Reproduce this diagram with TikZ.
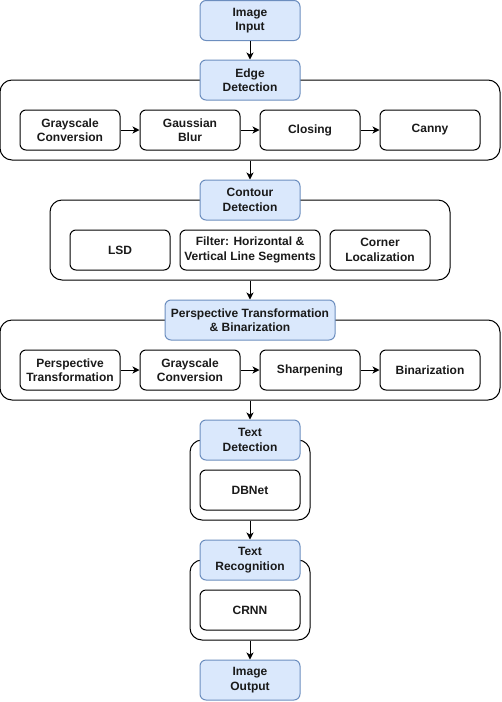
\documentclass[tikz,border=0pt]{standalone}
\usepackage{fontspec}
\setmainfont{Liberation Sans}
\usetikzlibrary{arrows.meta}
\definecolor{hfill}{HTML}{DAE8FC}
\definecolor{hdraw}{HTML}{6C8EBF}
\definecolor{txt}{HTML}{1A1A1A}
\begin{document}
\begin{tikzpicture}[x=1pt,y=-1pt,
  every node/.style={font=\fontsize{12}{14.5}\selectfont\bfseries, text=txt, align=center, inner sep=0pt},
  head/.style={draw=hdraw, fill=hfill, line width=1pt, rounded corners=6pt, minimum width=100pt, minimum height=40pt},
  stepbox/.style={draw=black, fill=white, line width=1pt, rounded corners=6pt, minimum width=100pt, minimum height=40pt},
  cont/.style={draw=black, fill=white, line width=1pt, rounded corners=12pt},
  arr/.style={draw=black, line width=1pt, -{Stealth[length=7pt,width=7pt,inset=2pt]}}
]
\useasboundingbox (0,0) rectangle (502,702);

% containers
\node[cont, minimum width=500pt, minimum height=80pt] (c1) at (250,120) {};
\node[cont, minimum width=400pt, minimum height=80pt] (c2) at (250,240) {};
\node[cont, minimum width=500pt, minimum height=80pt] (c3) at (250,360) {};
\node[cont, minimum width=120pt, minimum height=80pt] (c4) at (250,480) {};
\node[cont, minimum width=120pt, minimum height=80pt] (c5) at (250,600) {};

% headers
\node[head] (in) at (250,20.5) {Image\\Input};
\node[head] (edge) at (250,80) {Edge\\Detection};
\node[head] (contour) at (250,200) {Contour\\Detection};
\node[head, minimum width=170pt] (persp) at (250,320) {Perspective Transformation\\\& Binarization};
\node[head] (tdet) at (250,440) {Text\\Detection};
\node[head] (trec) at (250,560) {Text\\Recognition};
\node[head] (out) at (250,680) {Image\\Output};

% edge detection steps
\node[stepbox] (g1) at (70,130) {Grayscale\\Conversion};
\node[stepbox] (gb) at (190,130) {Gaussian\\Blur};
\node[stepbox] (cl) at (310,130) {Closing};
\node[stepbox] (ca) at (430,130) {Canny};

% contour steps
\node[stepbox] (lsd) at (120,250) {LSD};
\node[stepbox, minimum width=140pt] (flt) at (250,250) {Filter: Horizontal \&\\Vertical Line Segments};
\node[stepbox] (cor) at (380,250) {Corner\\Localization};

% perspective steps
\node[stepbox] (pt) at (70,370) {Perspective\\Transformation};
\node[stepbox] (g2) at (190,370) {Grayscale\\Conversion};
\node[stepbox] (sh) at (310,370) {Sharpening};
\node[stepbox] (bi) at (430,370) {Binarization};

\node[stepbox] (db) at (250,490) {DBNet};
\node[stepbox] (cr) at (250,610) {CRNN};

% arrows
\draw[arr] (in) -- (edge);
\draw[arr] (c1.south) -- (contour.north);
\draw[arr] (c2.south) -- (persp.north);
\draw[arr] (c3.south) -- (tdet.north);
\draw[arr] (c4.south) -- (trec.north);
\draw[arr] (c5.south) -- (out.north);

\draw[arr] (g1) -- (gb);
\draw[arr] (gb) -- (cl);
\draw[arr] (cl) -- (ca);
\draw[arr] (pt) -- (g2);
\draw[arr] (g2) -- (sh);
\draw[arr] (sh) -- (bi);
\end{tikzpicture}
\end{document}
